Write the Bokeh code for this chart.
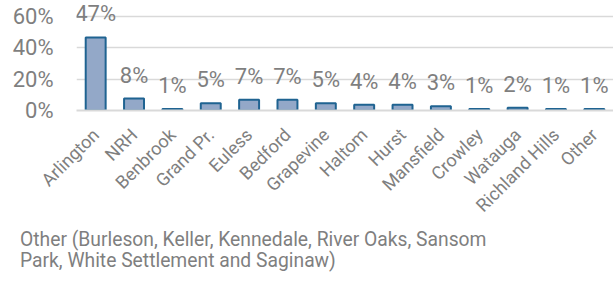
from bokeh.plotting import figure
from bokeh.models import ColumnDataSource, LabelSet, FixedTicker, NumeralTickFormatter, Range1d, Div
from bokeh.layouts import column
from bokeh.core.properties import value
from bokeh.embed import file_html
from bokeh.resources import INLINE

cities = ["Arlington", "NRH", "Benbrook", "Grand Pr.", "Euless", "Bedford", "Grapevine",
          "Haltom", "Hurst", "Mansfield", "Crowley", "Watauga", "Richland Hills", "Other"]
shares = [0.466, 0.076, 0.010, 0.047, 0.068, 0.068, 0.047, 0.037, 0.037, 0.027, 0.009, 0.017, 0.009, 0.009]
labels = [f"{v:.0%}" for v in shares]
y_ticks = [0, 0.2, 0.4, 0.6]
note_lines = ["Other (Burleson, Keller, Kennedale, River Oaks, Sansom",
              "Park, White Settlement and Saginaw)"]

FONT = "Roboto"
GRAY = "#7f7f7f"

src = ColumnDataSource(dict(city=cities, share=shares, label=labels))

p = figure(x_range=cities, y_range=Range1d(0, 0.702), frame_width=537, frame_height=110,
           output_backend="svg", toolbar_location=None,
           min_border_left=76, min_border_right=0, min_border_top=0, min_border_bottom=112)
p.outline_line_color = None
p.background_fill_color = "white"
p.border_fill_color = "white"

p.vbar(x="city", top="share", width=0.52, source=src,
       fill_color="#93a8c8", line_color="#1f6391", line_width=2)

p.add_layout(LabelSet(x="city", y="share", text="label", source=src,
                      text_align="center", text_baseline="alphabetic", y_offset=16,
                      text_font=value(FONT), text_font_size=value("22px"), text_color=value(GRAY)))

p.yaxis.ticker = FixedTicker(ticks=y_ticks)
p.yaxis.formatter = NumeralTickFormatter(format="0%")
p.yaxis.axis_line_color = None
p.yaxis.major_tick_line_color = None
p.yaxis.minor_tick_line_color = None
p.yaxis.major_tick_out = 0
p.yaxis.major_tick_in = 0
p.yaxis.major_label_text_font = FONT
p.yaxis.major_label_text_font_size = "22px"
p.yaxis.major_label_text_color = GRAY
p.yaxis.major_label_standoff = 23

p.xaxis.axis_line_color = "#d9d9d9"
p.xaxis.axis_line_width = 2
p.xaxis.major_tick_line_color = None
p.xaxis.minor_tick_line_color = None
p.xaxis.major_tick_out = 0
p.xaxis.major_tick_in = 0
p.xaxis.major_label_orientation = 0.785
p.xaxis.major_label_text_font = FONT
p.xaxis.major_label_text_font_size = "18px"
p.xaxis.major_label_text_color = GRAY
p.xaxis.major_label_standoff = 21

p.xgrid.grid_line_color = None
p.ygrid.grid_line_color = "#d9d9d9"
p.ygrid.grid_line_width = 1.5

note = Div(text="<br>".join(note_lines), width=590, margin=(3, 0, 0, 20),
           styles={"font-family": FONT, "font-size": "19.3px", "color": GRAY,
                   "line-height": "21px", "white-space": "nowrap"})

open("out.html", "w").write(file_html(column(p, note, spacing=0), INLINE))
